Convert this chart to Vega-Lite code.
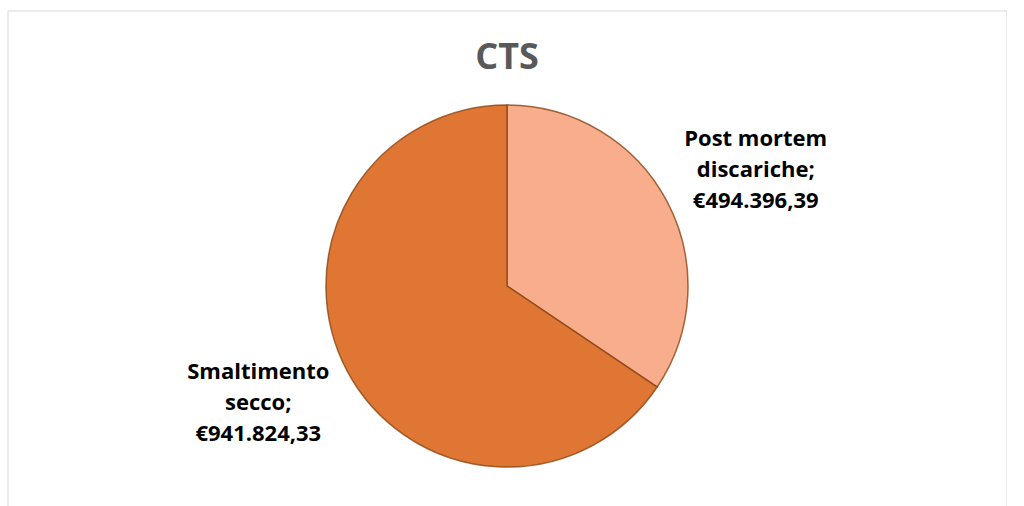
{
  "$schema": "https://vega.github.io/schema/vega-lite/v6.json",
  "autosize": {"type": "none"},
  "padding": {"left": 7.5, "top": 10.5, "right": 0, "bottom": 0},
  "width": 999,
  "height": 551,
  "background": "white",
  "view": {"stroke": "#D9D9D9", "strokeWidth": 1},
  "title": {
    "text": "CTS",
    "frame": "group",
    "anchor": "middle",
    "orient": "top",
    "offset": 0,
    "baseline": "alphabetic",
    "dy": 94.5,
    "font": "Open Sans",
    "fontSize": 36,
    "fontWeight": "bold",
    "color": "#595959"
  },
  "data": {
    "values": [
      {"category": "Post mortem discariche", "value": 494396.39, "ord": 1, "label": "Post mortem\ndiscariche;\n€494.396,39"},
      {"category": "Smaltimento secco", "value": 941824.33, "ord": 2, "label": "Smaltimento\nsecco;\n€941.824,33"}
    ]
  },
  "encoding": {
    "theta": {"field": "value", "type": "quantitative", "stack": true},
    "order": {"field": "ord", "type": "quantitative"}
  },
  "layer": [
    {
      "mark": {"type": "arc", "outerRadius": 181, "stroke": "#8B4513", "strokeWidth": 1.5, "strokeOpacity": 0.8},
      "encoding": {
        "color": {
          "field": "category",
          "type": "nominal",
          "scale": {"domain": ["Post mortem discariche", "Smaltimento secco"], "range": ["#F8AE8C", "#E07633"]},
          "legend": null
        }
      }
    },
    {
      "mark": {"type": "text", "radius": 275, "dx": {"expr": "datum.ord == 1 ? 6 : -6"}, "dy": {"expr": "datum.ord == 1 ? -18 : -43"}, "align": "center", "baseline": "middle", "lineBreak": "\n", "lineHeight": 31, "font": "Open Sans", "fontSize": 22, "fontWeight": "bold", "color": "#000000"},
      "encoding": {"text": {"field": "label"}}
    }
  ]
}
